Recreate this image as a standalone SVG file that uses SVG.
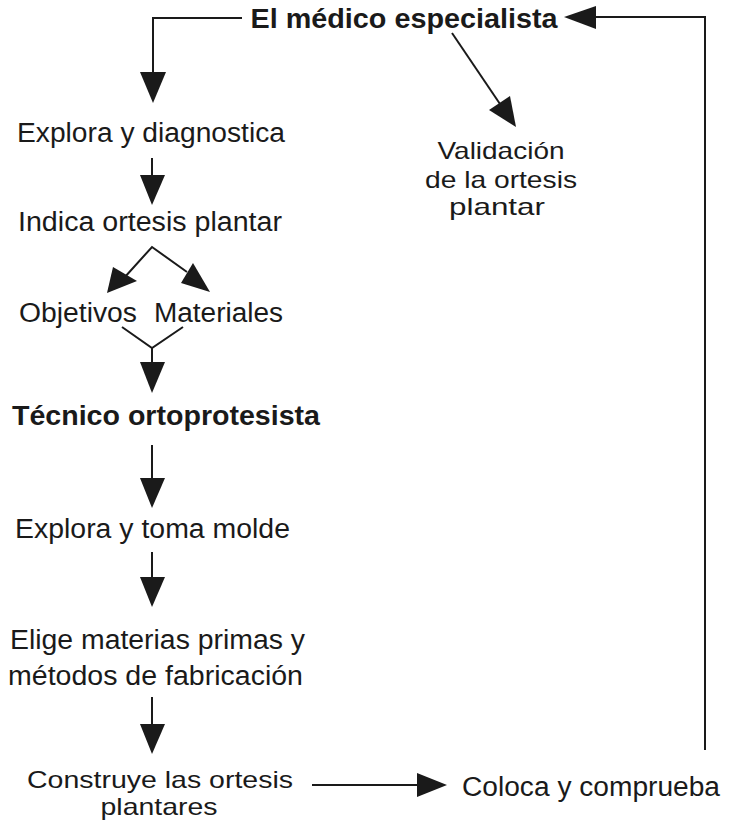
<svg xmlns="http://www.w3.org/2000/svg" width="730" height="825" viewBox="0 0 730 825">
<style>
text{font-family:"Liberation Sans",Arial,sans-serif;font-size:27px;fill:#1a1a1a;text-anchor:middle}
.b{font-weight:bold;font-size:27px}
.m{font-size:24px}
.l{fill:none;stroke:#1a1a1a;stroke-width:2}
.h{fill:#1a1a1a}
</style>
<rect width="730" height="825" fill="#fff"/>
<g id="connectors">
<polyline class="l" points="242,18 153,18 153,75"/>
<polygon class="h" points="140,72 166,72 153,103"/>
<polyline class="l" points="594,17 705,17 705,750"/>
<polygon class="h" points="564,17 596,6 596,29"/>
<line class="l" x1="452" y1="33" x2="500" y2="104"/>
<polygon class="h" points="516,127 489,110 510,96"/>
<line class="l" x1="152" y1="158" x2="152" y2="178"/>
<polygon class="h" points="140,175 165,175 152,205"/>
<polyline class="l" points="124,278 152,247 187,272"/>
<polygon class="h" points="107,293 113,267 137,281"/>
<polygon class="h" points="210,292 181,283 193,263"/>
<polyline class="l" points="122,327 152,348 183,327"/>
<line class="l" x1="152" y1="348" x2="152" y2="364"/>
<polygon class="h" points="140,362 165,362 152,393"/>
<line class="l" x1="152" y1="445" x2="152" y2="480"/>
<polygon class="h" points="140,478 165,478 152,508"/>
<line class="l" x1="152" y1="552" x2="152" y2="579"/>
<polygon class="h" points="140,577 165,577 152,607"/>
<line class="l" x1="152" y1="697" x2="152" y2="726"/>
<polygon class="h" points="140,724 165,724 152,754"/>
<line class="l" x1="312" y1="785" x2="419" y2="785"/>
<polygon class="h" points="447,785 417,773 417,797"/>
</g>
<g id="n-medico"><text class="b" x="404" y="28" textLength="307" lengthAdjust="spacingAndGlyphs">El médico especialista</text></g>
<g id="n-validacion"><text class="m" x="501" y="159" textLength="127" lengthAdjust="spacingAndGlyphs">Validación</text><text class="m" x="501" y="188" textLength="152" lengthAdjust="spacingAndGlyphs">de la ortesis</text><text class="m" x="497" y="215" textLength="96" lengthAdjust="spacingAndGlyphs">plantar</text></g>
<g id="n-explora1"><text x="151" y="142" textLength="268" lengthAdjust="spacingAndGlyphs">Explora y diagnostica</text></g>
<g id="n-indica"><text x="150" y="231" textLength="264" lengthAdjust="spacingAndGlyphs">Indica ortesis plantar</text></g>
<g id="n-objetivos"><text x="78" y="322" textLength="118" lengthAdjust="spacingAndGlyphs">Objetivos</text></g>
<g id="n-materiales"><text x="218.5" y="322" textLength="129" lengthAdjust="spacingAndGlyphs">Materiales</text></g>
<g id="n-tecnico"><text class="b" x="166" y="425" textLength="308" lengthAdjust="spacingAndGlyphs">Técnico ortoprotesista</text></g>
<g id="n-explora2"><text x="152.5" y="538" textLength="275" lengthAdjust="spacingAndGlyphs">Explora y toma molde</text></g>
<g id="n-elige"><text x="157.5" y="649" textLength="295" lengthAdjust="spacingAndGlyphs">Elige materias primas y</text><text x="155.5" y="685" textLength="295" lengthAdjust="spacingAndGlyphs">métodos de fabricación</text></g>
<g id="n-construye"><text class="m" x="160" y="788" textLength="266" lengthAdjust="spacingAndGlyphs">Construye las ortesis</text><text class="m" x="159" y="815" textLength="117" lengthAdjust="spacingAndGlyphs">plantares</text></g>
<g id="n-coloca"><text x="591" y="796" textLength="258" lengthAdjust="spacingAndGlyphs">Coloca y comprueba</text></g>
</svg>
